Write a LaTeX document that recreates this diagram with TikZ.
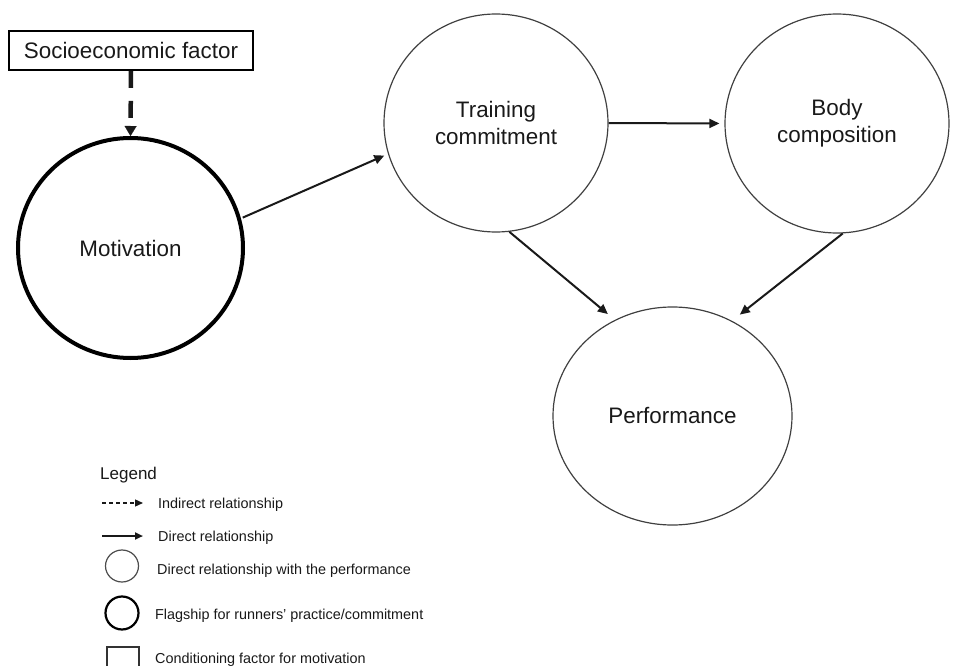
\documentclass[tikz,border=0pt]{standalone}
\usepackage{fontspec}
\setmainfont{Liberation Sans}
\usetikzlibrary{arrows.meta,shapes.geometric}

\tikzset{
  thinfactor/.style={ellipse, draw=black!75, line width=1.2pt, inner sep=0pt,
    align=center, font=\fontsize{22.4}{27}\selectfont, text=black!90},
  flagship/.style={ellipse, draw=black, line width=4pt, inner sep=0pt,
    align=center, font=\fontsize{22.4}{27}\selectfont, text=black!90},
  condbox/.style={rectangle, draw=black, line width=1.8pt, inner sep=0pt,
    minimum width=244pt, minimum height=39pt,
    font=\fontsize{22.4}{27}\selectfont, text=black!90},
  direct/.style={-{Triangle[length=10pt,width=9pt]}, line width=2pt, black!90},
  indirect/.style={-{Triangle[length=10pt,width=12pt,line width=0.1pt]},
    line width=4.5pt, dash pattern=on 17pt off 13pt, black!90},
  legtext/.style={anchor=base west, inner sep=0pt, text=black!90,
    font=\fontsize{14.4}{16}\selectfont},
}

\begin{document}
\begin{tikzpicture}[x=1pt, y=-1pt]
\useasboundingbox (0,0) rectangle (954,666);

% factors
\node[condbox] (soc) at (131,50.5) {Socioeconomic factor};
\node[flagship, minimum width=225pt, minimum height=220pt] (mot) at (130.5,248) {Motivation};
\node[thinfactor, minimum width=224pt, minimum height=218pt] (tc) at (496,123) {Training\\commitment};
\node[thinfactor, minimum width=224pt, minimum height=219pt] (bc) at (837,123.5) {Body\\composition};
\node[thinfactor, minimum width=239pt, minimum height=218pt] (perf) at (672.5,416) {Performance};

% relationships
\draw[indirect] (soc.south) -- (mot.north);
\draw[direct, shorten <=2pt, shorten >=4pt] (mot.15) -- (tc.196);
\draw[direct, shorten >=5pt] (tc.east) -- (bc.west);
\draw[direct] (tc.-83) -- ([shift={(-9*0.763,-9*0.646)}]perf.121);
\draw[direct] (bc.-87) -- ([shift={(10*0.785,-10*0.619)}]perf.58);

% legend
\node[anchor=base west, inner sep=0pt, text=black!90, font=\fontsize{17}{19}\selectfont] (leg) at (100,479) {Legend};

\coordinate (ia) at (102,503);
\coordinate (ib) at (143,503);
\draw[-{Triangle[length=8pt,width=7pt]}, line width=1.3pt, dash pattern=on 4pt off 3pt, black!90] (ia) -- (ib);
\node[legtext] (lind) at (158,508) {Indirect relationship};

\coordinate (da) at (102,536);
\coordinate (db) at (143,536);
\draw[-{Triangle[length=8pt,width=7pt]}, line width=2pt, black!90] (da) -- (db);
\node[legtext] (ldir) at (158,541) {Direct relationship};

\node[ellipse, draw=black!70, line width=1.2pt, minimum width=33pt, minimum height=32pt, inner sep=0pt] (lc1) at (122,566) {};
\node[legtext] (lperf) at (157,574) {Direct relationship with the performance};

\node[ellipse, draw=black, line width=2.2pt, minimum width=33pt, minimum height=33pt, inner sep=0pt] (lc2) at (122,613) {};
\node[legtext] (lflag) at (155,619) {Flagship for runners’ practice/commitment};

\draw[black!80, line width=1.2pt] (107,666) -- (107,647) -- (139,647) -- (139,666);
\node[legtext] (lcond) at (155,663) {Conditioning factor for motivation};
\end{tikzpicture}
\end{document}
